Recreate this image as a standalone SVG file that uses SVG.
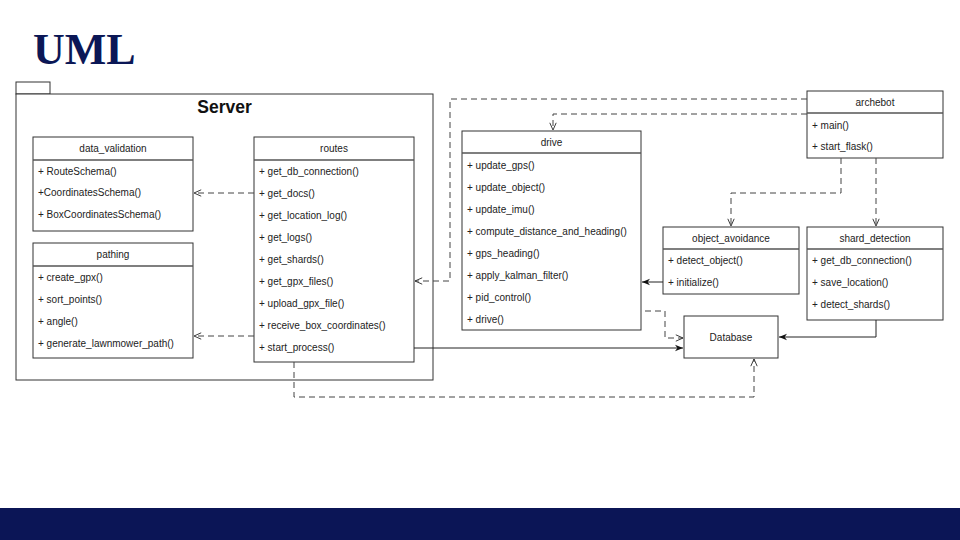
<svg xmlns="http://www.w3.org/2000/svg" width="960" height="540" viewBox="0 0 960 540">
<defs>
<marker id="open" viewBox="0 0 10 10" refX="10" refY="5" markerWidth="8" markerHeight="8" orient="auto" markerUnits="userSpaceOnUse"><path d="M1,1 L10,5 L1,9" fill="none" stroke="#333" stroke-width="1.2"/></marker>
<marker id="filled" viewBox="0 0 10 10" refX="10" refY="5" markerWidth="8" markerHeight="8" orient="auto" markerUnits="userSpaceOnUse"><path d="M0,1 L10,5 L0,9 L3,5 Z" fill="#111" stroke="none"/></marker>
</defs>
<style>
.box{fill:#fff;stroke:#333;stroke-width:1}
.div{stroke:#555;stroke-width:1.3}
.t{font-family:"Liberation Sans",Arial,sans-serif;font-size:10px;fill:#222}
.h{text-anchor:middle}
.dash{fill:none;stroke:#444;stroke-width:1;stroke-dasharray:6,4}
.solid{fill:none;stroke:#222;stroke-width:1}
</style>
<rect width="960" height="540" fill="#fff"/>
<text x="33" y="64" font-family="'Liberation Serif','Times New Roman',serif" font-weight="bold" font-size="44" fill="#0b1756">UML</text>
<rect x="0" y="508" width="960" height="32" fill="#0b1556"/>

<g id="server">
<rect class="box" x="16" y="82" width="34" height="12"/>
<rect class="box" x="16" y="94" width="417" height="286"/>
<text x="224.5" y="113" font-family="'Liberation Sans',Arial,sans-serif" font-weight="bold" font-size="17.5" text-anchor="middle" fill="#111">Server</text>
</g>

<g id="data_validation">
<rect class="box" x="33" y="137" width="160" height="94"/>
<line class="div" x1="33" y1="160" x2="193" y2="160"/>
<text class="t h" x="113" y="152">data_validation</text>
<text class="t" x="38" y="175">+ RouteSchema()</text>
<text class="t" x="38" y="196">+CoordinatesSchema()</text>
<text class="t" x="38" y="218">+ BoxCoordinatesSchema()</text>
</g>

<g id="pathing">
<rect class="box" x="33" y="243" width="160" height="115"/>
<line class="div" x1="33" y1="266" x2="193" y2="266"/>
<text class="t h" x="113" y="258">pathing</text>
<text class="t" x="38" y="281">+ create_gpx()</text>
<text class="t" x="38" y="303">+ sort_points()</text>
<text class="t" x="38" y="325">+ angle()</text>
<text class="t" x="38" y="347">+ generate_lawnmower_path()</text>
</g>

<g id="routes">
<rect class="box" x="254" y="137" width="160" height="225"/>
<line class="div" x1="254" y1="160" x2="414" y2="160"/>
<text class="t h" x="334" y="152">routes</text>
<text class="t" x="259" y="175">+ get_db_connection()</text>
<text class="t" x="259" y="197">+ get_docs()</text>
<text class="t" x="259" y="219">+ get_location_log()</text>
<text class="t" x="259" y="241">+ get_logs()</text>
<text class="t" x="259" y="263">+ get_shards()</text>
<text class="t" x="259" y="285">+ get_gpx_files()</text>
<text class="t" x="259" y="307">+ upload_gpx_file()</text>
<text class="t" x="259" y="329">+ receive_box_coordinates()</text>
<text class="t" x="259" y="351">+ start_process()</text>
</g>

<g id="drive">
<rect class="box" x="462" y="131" width="179" height="199"/>
<line class="div" x1="462" y1="153" x2="641" y2="153"/>
<text class="t h" x="551.5" y="146">drive</text>
<text class="t" x="467" y="169">+ update_gps()</text>
<text class="t" x="467" y="191">+ update_object()</text>
<text class="t" x="467" y="213">+ update_imu()</text>
<text class="t" x="467" y="235">+ compute_distance_and_heading()</text>
<text class="t" x="467" y="257">+ gps_heading()</text>
<text class="t" x="467" y="279">+ apply_kalman_filter()</text>
<text class="t" x="467" y="301">+ pid_control()</text>
<text class="t" x="467" y="323">+ drive()</text>
</g>

<g id="archebot">
<rect class="box" x="807" y="91" width="136" height="67"/>
<line class="div" x1="807" y1="113" x2="943" y2="113"/>
<text class="t h" x="875" y="106">archebot</text>
<text class="t" x="812" y="129">+ main()</text>
<text class="t" x="812" y="150">+ start_flask()</text>
</g>

<g id="object_avoidance">
<rect class="box" x="663" y="227" width="136" height="67"/>
<line class="div" x1="663" y1="249" x2="799" y2="249"/>
<text class="t h" x="731" y="242">object_avoidance</text>
<text class="t" x="668" y="264">+ detect_object()</text>
<text class="t" x="668" y="286">+ initialize()</text>
</g>

<g id="shard_detection">
<rect class="box" x="807" y="227" width="136" height="93"/>
<line class="div" x1="807" y1="249" x2="943" y2="249"/>
<text class="t h" x="875" y="242">shard_detection</text>
<text class="t" x="812" y="264">+ get_db_connection()</text>
<text class="t" x="812" y="286">+ save_location()</text>
<text class="t" x="812" y="308">+ detect_shards()</text>
</g>

<g id="database">
<rect class="box" x="684" y="316" width="94" height="42"/>
<text class="t h" x="731" y="341">Database</text>
</g>

<g id="connectors">
<path class="dash" d="M254,193 H194" marker-end="url(#open)"/>
<path class="dash" d="M254,336 H194" marker-end="url(#open)"/>
<path class="dash" d="M807,99 H450 V281 H415" marker-end="url(#open)"/>
<path class="dash" d="M807,114 H553 V130" marker-end="url(#open)"/>
<path class="dash" d="M841,158 V193 H731 V226" marker-end="url(#open)"/>
<path class="dash" d="M876,158 V226" marker-end="url(#open)"/>
<path class="solid" d="M663,282 H642" marker-end="url(#filled)"/>
<path class="dash" d="M645,311 H665 V338 H683" marker-end="url(#open)"/>
<path class="solid" d="M414,348 H683" marker-end="url(#filled)"/>
<path class="solid" d="M876,320 V337 H779" marker-end="url(#filled)"/>
<path class="dash" d="M294,362 V397 H754 V359" marker-end="url(#open)"/>
</g>
</svg>
